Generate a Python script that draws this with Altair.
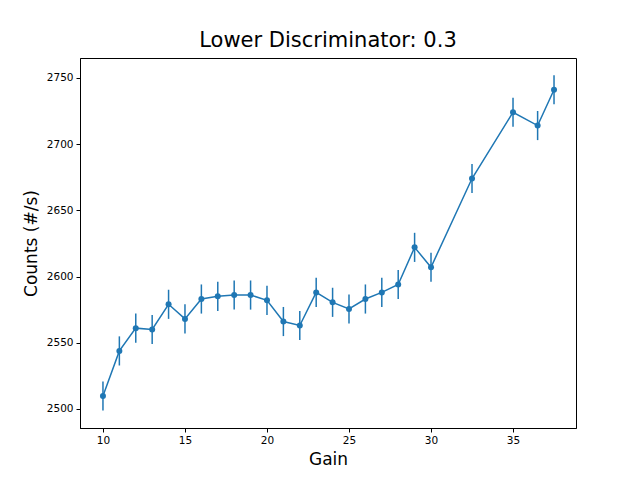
import altair as alt
import pandas as pd

gain = [10,11,12,13,14,15,16,17,18,19,20,21,22,23,24,25,26,27,28,29,30,32.5,35,36.5,37.5]
counts = [2509.8,2543.8,2561,2560,2579,2568,2583,2585,2586,2586,2582,2566,2563,2588,2580.5,2575.5,2583,2588,2594,2622,2607,2674,2724,2714,2741]
err = [11]*len(gain)

df = pd.DataFrame({"gain": gain, "counts": counts, "err": err})
df["lo"] = df.counts - df.err
df["hi"] = df.counts + df.err

c = "#1f77b4"
x = alt.X("gain:Q", title="Gain", scale=alt.Scale(domain=[8.6, 38.84], nice=False, zero=False),
          axis=alt.Axis(values=[10,15,20,25,30,35], grid=False, format="d"))
y = alt.Y("counts:Q", title="Counts (#/s)", scale=alt.Scale(domain=[2485.6, 2765], nice=False, zero=False),
          axis=alt.Axis(values=[2500,2550,2600,2650,2700,2750], grid=False, format="d"))

line = alt.Chart(df).mark_line(color=c, strokeWidth=1.5).encode(x=x, y=y)
pts = alt.Chart(df).mark_circle(color=c, size=36, opacity=1).encode(x=x, y=y)
bars = alt.Chart(df).mark_rule(color=c, strokeWidth=1.5).encode(x=x, y="lo:Q", y2="hi:Q")

chart = (bars + line + pts).properties(
    width=496, height=370,
    title=alt.TitleParams("Lower Discriminator: 0.3", fontSize=21, font="DejaVu Sans", fontWeight="normal", offset=7),
    autosize=alt.AutoSizeParams(type="none"),
    padding={"left": 72, "top": 50, "right": 56, "bottom": 44},
).configure_view(stroke="black", strokeWidth=1).configure_axis(
    labelFont="DejaVu Sans", titleFont="DejaVu Sans", labelFontSize=10.5, titleFontSize=17,
    titleFontWeight="normal", labelColor="black", titleColor="black", domainColor="black",
    tickColor="black", tickSize=4, labelPadding=3, titlePadding=6
)

chart.save("out.html", embed_options={"renderer": "svg", "actions": False})
